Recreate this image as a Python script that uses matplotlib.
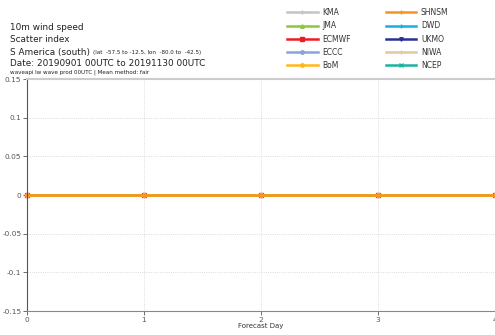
import matplotlib
matplotlib.use("Agg")
import matplotlib.pyplot as plt
from matplotlib.lines import Line2D

# forecast days and scatter index per centre (all zero in the reference)
days = [0, 1, 2, 3, 4]
centres = ["KMA", "SHNSM", "JMA", "DWD", "ECMWF", "UKMO", "ECCC", "NIWA", "BoM", "NCEP"]
values = {
    "KMA": [0, 0, 0, 0, 0],
    "SHNSM": [0, 0, 0, 0, 0],
    "JMA": [0, 0, 0, 0, 0],
    "DWD": [0, 0, 0, 0, 0],
    "ECMWF": [0, 0, 0, 0, 0],
    "UKMO": [0, 0, 0, 0, 0],
    "ECCC": [0, 0, 0, 0, 0],
    "NIWA": [0, 0, 0, 0, 0],
    "BoM": [0, 0, 0, 0, 0],
    "NCEP": [0, 0, 0, 0, 0],
}
y_ticks = [-0.15, -0.1, -0.05, 0, 0.05, 0.1, 0.15]
y_labels = ["-0.15", "-0.1", "-0.05", "0", "0.05", "0.1", "0.15"]

colors = {
    "KMA": "#c4c4c4", "SHNSM": "#f7941d", "JMA": "#8cc63e", "DWD": "#16aeea",
    "ECMWF": "#ee1c25", "UKMO": "#2b3192", "ECCC": "#8aa4d8", "NIWA": "#e3c9a0",
    "BoM": "#ffb81c", "NCEP": "#1ab2a0",
}
markers = {
    "KMA": "+", "SHNSM": "+", "JMA": "^", "DWD": "+", "ECMWF": "s",
    "UKMO": "v", "ECCC": "o", "NIWA": "+", "BoM": "o", "NCEP": "x",
}

fig = plt.figure(figsize=(4.95, 3.35), dpi=100)
ax = fig.add_axes([0.0545, 0.0716, 0.9455, 0.6925])

draw_order = ["KMA", "JMA", "DWD", "ECMWF", "UKMO", "ECCC", "NIWA", "NCEP", "BoM", "SHNSM"]
for name in draw_order:
    ax.plot(days, values[name], color=colors[name], lw=1.8, marker=markers[name],
            ms=2.5, clip_on=False)

ax.set_xlim(0, 4)
ax.set_ylim(-0.15, 0.15)
ax.set_xticks(days)
ax.set_yticks(y_ticks)
ax.set_yticklabels(y_labels)
ax.tick_params(labelsize=5.3, colors="#555555", length=3, width=0.6, pad=1)
ax.grid(True, linestyle=":", color="#d0d0d0", lw=0.6)
ax.set_xlabel("Forecast Day", fontsize=5, color="#333333", labelpad=0)
ax.spines["right"].set_visible(False)
ax.spines["top"].set_color("#cccccc")
ax.spines["top"].set_linewidth(1.5)
ax.spines["left"].set_color("#555555")
ax.spines["bottom"].set_color("#888888")

# header text
hdr = dict(fontsize=6.4, va="center", color="#222222")
fig.text(0.02, 1 - 27 / 335, "10m wind speed", **hdr)
fig.text(0.02, 1 - 40 / 335, "Scatter index", **hdr)
region = fig.text(0.02, 1 - 52 / 335, "S America (south)", **hdr)
fig.canvas.draw()
bb = region.get_window_extent()
fig.text(bb.x1 / 495 + 0.006, 1 - 52.5 / 335,
         "(lat  -57.5 to -12.5, lon  -80.0 to  -42.5)",
         fontsize=4.1, va="center", color="#222222")
fig.text(0.02, 1 - 63 / 335, "Date: 20190901 00UTC to 20191130 00UTC", **hdr)
fig.text(0.02, 1 - 72 / 335, "waveapi lw wave prod 00UTC | Mean method: fair",
         fontsize=4.1, va="center", color="#222222")

handles = {n: Line2D([], [], color=colors[n], lw=1.8, marker=markers[n], ms=2.5)
           for n in centres}
order = ["KMA", "JMA", "ECMWF", "ECCC", "BoM", "SHNSM", "DWD", "UKMO", "NIWA", "NCEP"]
leg = fig.legend([handles[n] for n in order], order, ncol=2,
                 loc="upper left", bbox_to_anchor=(287 / 495, 1 - 8 / 335),
                 frameon=False, borderpad=0, borderaxespad=0,
                 fontsize=5.5, handlelength=4.0, columnspacing=4.6,
                 labelspacing=0.56, handletextpad=0.6)
for txt in leg.get_texts():
    txt.set_color("#333333")

fig.savefig("out.png", dpi=100)
